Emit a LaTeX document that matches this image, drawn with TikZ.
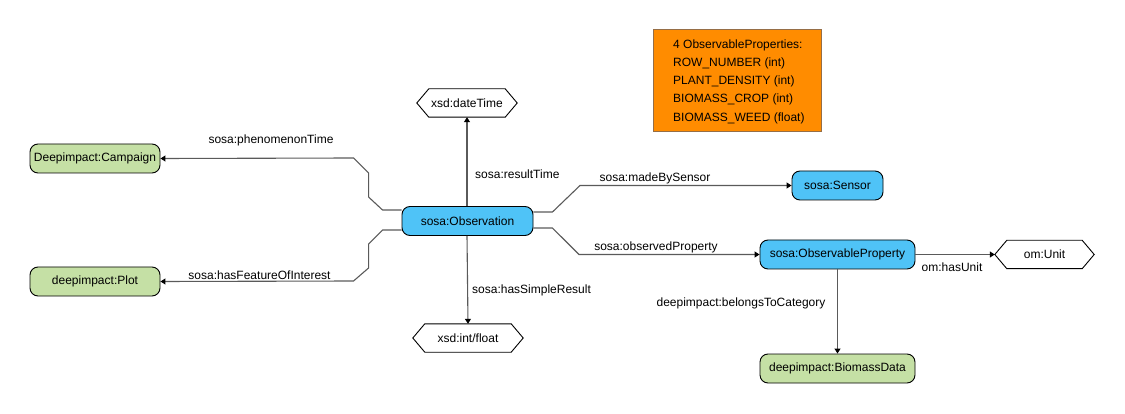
\documentclass[tikz,border=0pt]{standalone}
\usepackage{fontspec}
\setmainfont{Liberation Sans}
\usetikzlibrary{arrows.meta}
\definecolor{obsblue}{RGB}{79,195,247}
\definecolor{leafgreen}{RGB}{197,224,165}
\definecolor{boxorange}{RGB}{255,140,0}
\definecolor{boxborder}{RGB}{150,110,70}
\definecolor{linegray}{RGB}{90,90,90}
\tikzset{
  base/.style={font=\fontsize{12}{14}\selectfont, inner sep=0pt, align=center},
  classbox/.style={base, draw=black, line width=0.9pt, rounded corners=8pt, minimum height=29pt},
  bluebox/.style={classbox, fill=obsblue},
  greenbox/.style={classbox, fill=leafgreen},
  hexbox/.style={base, minimum height=28pt},
  conn/.style={draw=linegray, line width=1.1pt, -{Triangle[length=5pt,width=6pt,fill=black,color=black]}},
  lbl/.style={font=\fontsize{12}{14}\selectfont, inner sep=0pt},
}
\newcommand{\hexdraw}[1]{%
  \draw[black, line width=0.9pt] (#1.west) -- ([xshift=12pt]#1.north west) -- ([xshift=-12pt]#1.north east) -- (#1.east) -- ([xshift=-12pt]#1.south east) -- ([xshift=12pt]#1.south west) -- cycle;}
\begin{document}
\begin{tikzpicture}[x=1pt,y=-1pt]
\useasboundingbox (0,0) rectangle (1125,414);
% nodes
\node[bluebox, minimum width=131pt] (obs) at (467.5,221) {sosa:Observation};
\node[greenbox, minimum width=130pt] (camp) at (95,158.5) {Deepimpact:Campaign};
\node[greenbox, minimum width=130pt] (plot) at (95,281.5) {deepimpact:Plot};
\node[hexbox, minimum width=100pt] (dt) at (467,103) {xsd:dateTime};
\node[hexbox, minimum width=110pt] (intf) at (468,338) {xsd:int/float};
\node[bluebox, minimum width=91pt] (sensor) at (837.5,185.5) {sosa:Sensor};
\node[bluebox, minimum width=155pt] (op) at (837.5,254.5) {sosa:ObservableProperty};
\node[hexbox, minimum width=99pt] (unit) at (1044.5,254.5) {om:Unit};
\node[greenbox, minimum width=155pt] (bio) at (837.5,368.5) {deepimpact:BiomassData};
\hexdraw{dt}
\hexdraw{intf}
\hexdraw{unit}
\node[draw=boxborder, fill=boxorange, line width=0.9pt, minimum width=168pt, minimum height=102pt, inner sep=0pt] (note) at (737,80) {};
\node[font=\fontsize{12}{18.2}\selectfont, align=left, anchor=north west, inner sep=0pt] (notetxt) at (673,39.5) {4 ObservableProperties:\\ROW\_NUMBER (int)\\PLANT\_DENSITY (int)\\BIOMASS\_CROP (int)\\BIOMASS\_WEED (float)};
% connectors
\coordinate (o1) at ([yshift=11pt]obs.west);
\coordinate (o2) at ([yshift=-9pt]obs.west);
\coordinate (o3) at ([yshift=9pt]obs.east);
\coordinate (o4) at ([yshift=-7pt]obs.east);
\draw[conn] (o1) -- ++(-19,0) -- ++(-14,-13) -- ++(0,-24) -- ++(-15,-15) -- (camp.east);
\draw[conn] (o2) -- ++(-19,0) -- ++(-14,14) -- ++(0,24) -- ++(-15,13) -- (plot.east);
\draw[conn] (o3) -- ++(19,0) -- (580,185.5) -- (sensor.west);
\draw[conn] (o4) -- ++(19,0) -- (579,254.5) -- (op.west);
\draw[conn] (obs.north -| dt.south) -- (dt.south);
\draw[conn] (obs.south -| dt.south) -- (intf.north);
\draw[conn] (op.east) -- (unit.west);
\draw[conn] (op.south) -- (bio.north);
% labels
\node[lbl] (l1) at (271,140) {sosa:phenomenonTime};
\node[lbl] (l2) at (259.5,275) {sosa:hasFeatureOfInterest};
\node[lbl, anchor=west] (l3) at (475,174) {sosa:resultTime};
\node[lbl, anchor=west] (l4) at (472,290) {sosa:hasSimpleResult};
\node[lbl] (l5) at (655,178) {sosa:madeBySensor};
\node[lbl] (l6) at (656,247) {sosa:observedProperty};
\node[lbl] (l7) at (952,267) {om:hasUnit};
\node[lbl] (l8) at (741,303) {deepimpact:belongsToCategory};
\end{tikzpicture}
\end{document}
